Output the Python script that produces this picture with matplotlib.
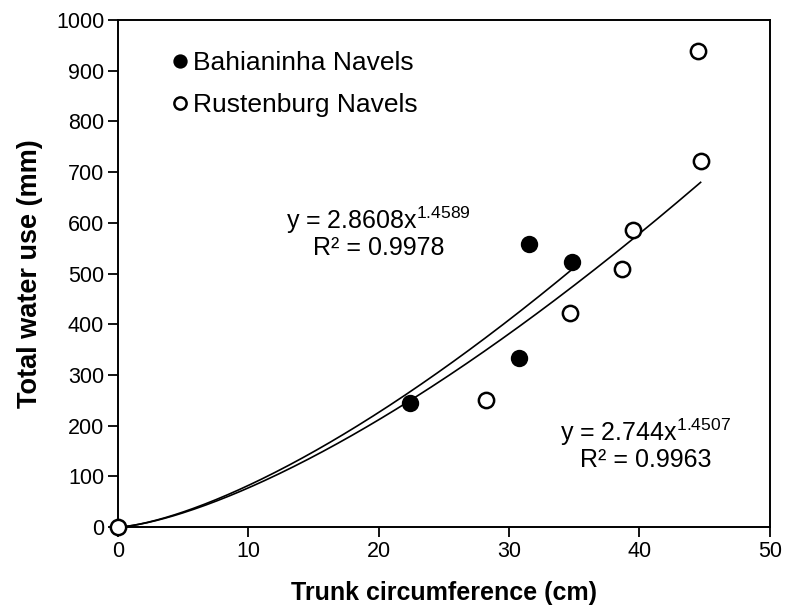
import numpy as np
import matplotlib
matplotlib.use("Agg")
import matplotlib.pyplot as plt

plt.rcParams['font.family'] = ['Liberation Sans', 'DejaVu Sans']
plt.rcParams['mathtext.fontset'] = 'custom'
plt.rcParams['mathtext.rm'] = 'Liberation Sans'
plt.rcParams['mathtext.it'] = 'Liberation Sans'

# trunk circumference (cm) vs total water use (mm)
bahia_x = [22.4, 30.8, 31.5, 34.8]
bahia_y = [245, 333, 558, 523]
rust_x = [0, 28.2, 34.7, 38.7, 39.5, 44.5, 44.7]
rust_y = [0, 250, 422, 509, 586, 939, 722]

# power fits y = a * x^b, with R squared
bahia_fit = (2.8608, 1.4589, 0.9978)
rust_fit = (2.744, 1.4507, 0.9963)

fig = plt.figure(figsize=(7.87, 6.08), dpi=100)
ax = fig.add_axes([0.150, 0.133, 0.828, 0.834])

xb = np.linspace(0, max(bahia_x), 200)
xr = np.linspace(0, max(rust_x), 200)
ax.plot(xb, bahia_fit[0] * xb ** bahia_fit[1], color='black', lw=1.2, zorder=2)
ax.plot(xr, rust_fit[0] * xr ** rust_fit[1], color='black', lw=1.2, zorder=2)

ax.plot(bahia_x, bahia_y, 'o', ms=11, mfc='black', mec='black', mew=1.5,
        ls='none', label='Bahianinha Navels', zorder=3)
ax.plot(rust_x, rust_y, 'o', ms=11, mfc='white', mec='black', mew=1.8,
        ls='none', label='Rustenburg Navels', zorder=3, clip_on=False)

eq_size = 18
ax.text(20.0, 605, 'y = %.4fx$^{%.4f}$' % bahia_fit[:2],
        ha='center', va='center', fontsize=eq_size)
ax.text(20.0, 550, 'R² = %.4f' % bahia_fit[2],
        ha='center', va='center', fontsize=eq_size)
ax.text(40.5, 187, 'y = %.3fx$^{%.4f}$' % rust_fit[:2],
        ha='center', va='center', fontsize=eq_size)
ax.text(40.5, 132, 'R² = %.4f' % rust_fit[2],
        ha='center', va='center', fontsize=eq_size)

leg = ax.legend(loc='upper left', bbox_to_anchor=(0.034, 0.985), frameon=False,
                fontsize=19, handletextpad=-0.1, markerscale=0.8,
                labelspacing=0.68, handlelength=1.2)

ax.set_xlim(0, 50)
ax.set_ylim(0, 1000)
ax.set_xticks(range(0, 51, 10))
ax.set_yticks(range(0, 1001, 100))
ax.tick_params(direction='out', length=7, width=1.3, labelsize=15.5, pad=3)
for s in ax.spines.values():
    s.set_linewidth(1.4)

ax.set_xlabel('Trunk circumference (cm)', fontsize=18, fontweight='bold', labelpad=14)
ax.set_ylabel('Total water use (mm)', fontsize=19.5, fontweight='bold', labelpad=9)

fig.savefig('out.png', dpi=100)
